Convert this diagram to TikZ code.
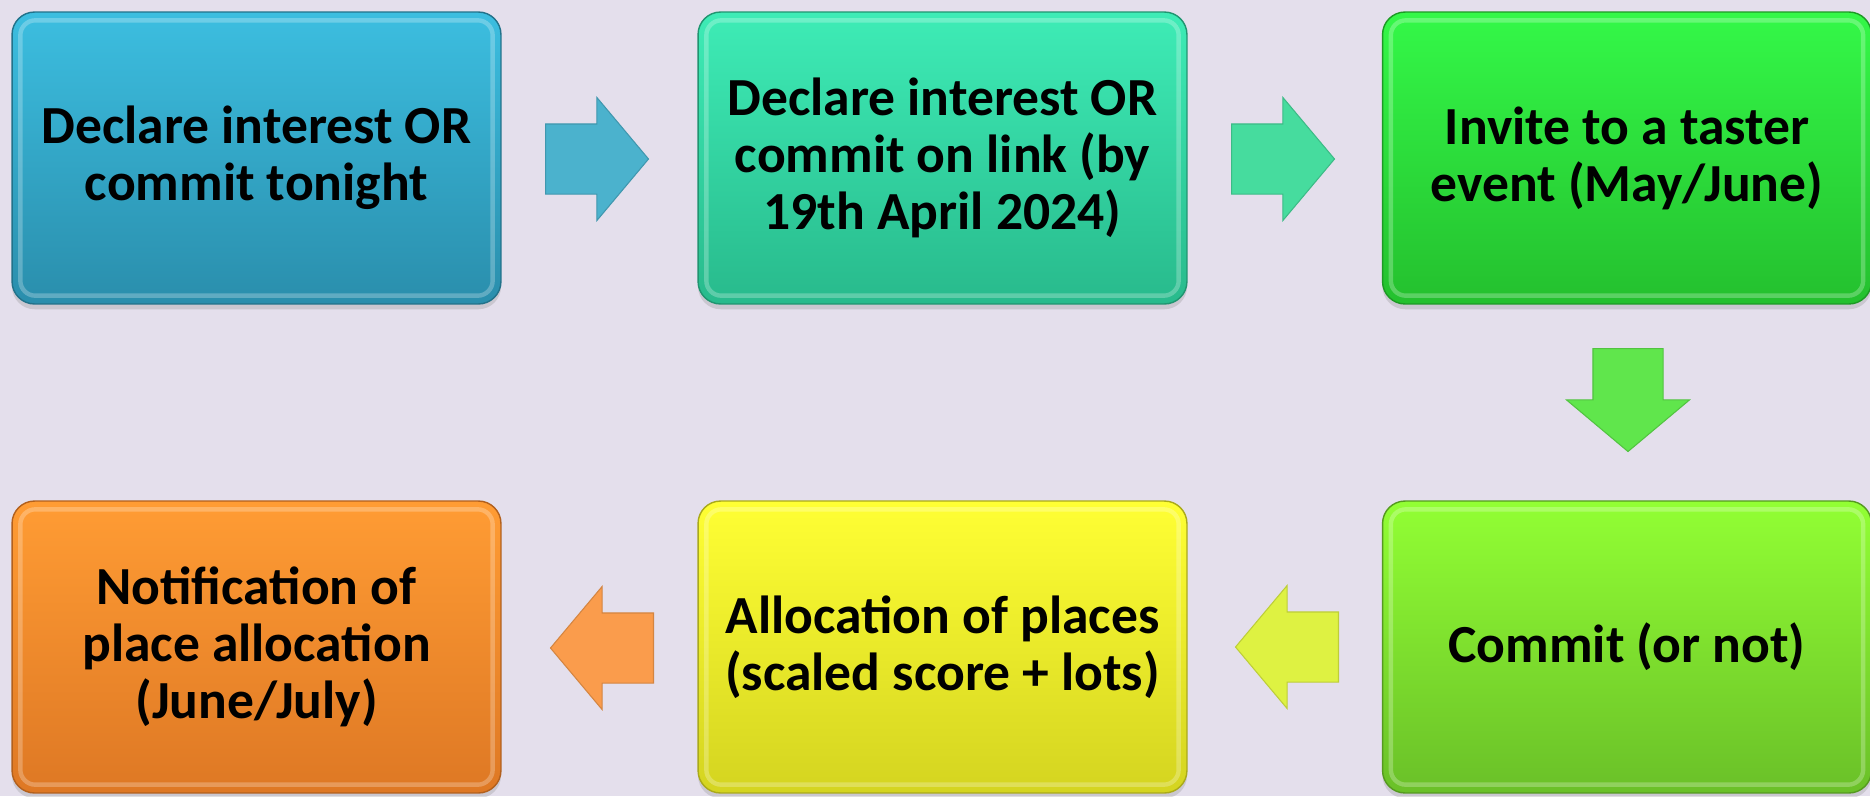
\documentclass[tikz,border=0pt]{standalone}
\usepackage{fontspec}
\setmainfont{Carlito}
\usetikzlibrary{shapes.arrows,shadows}

\definecolor{bgcol}{RGB}{228,223,236}
\definecolor{declTop}{RGB}{60,190,224}
\definecolor{declBot}{RGB}{42,142,172}
\definecolor{linkTop}{RGB}{62,236,182}
\definecolor{linkBot}{RGB}{40,186,140}
\definecolor{tastTop}{RGB}{52,248,72}
\definecolor{tastBot}{RGB}{36,192,46}
\definecolor{commTop}{RGB}{146,255,52}
\definecolor{commBot}{RGB}{106,192,40}
\definecolor{allocTop}{RGB}{255,255,52}
\definecolor{allocBot}{RGB}{212,212,32}
\definecolor{notifTop}{RGB}{255,156,52}
\definecolor{notifBot}{RGB}{222,120,36}
\definecolor{arrDecl}{RGB}{75,178,205}
\definecolor{arrLink}{RGB}{70,220,158}
\definecolor{arrTast}{RGB}{96,230,76}
\definecolor{arrComm}{RGB}{222,242,66}
\definecolor{arrAlloc}{RGB}{250,156,76}

\tikzset{
    stage/.style={rounded corners=0.45cm, minimum width=9.78cm, minimum height=5.84cm,
        inner sep=0pt, align=center, line width=0.8pt,
        font=\fontsize{30.5}{32.5}\selectfont\bfseries,
        drop shadow={opacity=0.25, shadow xshift=0pt, shadow yshift=-3pt}},
    gloss/.style={draw=white, opacity=0.25, line width=2.5pt, rounded corners=0.3cm},
    flowarrow/.style={single arrow, single arrow head extend=0.53cm, single arrow tip angle=100,
        minimum height=2.06cm, minimum width=0pt, inner xsep=0pt, inner ysep=0.69cm,
        anchor=tail, fill=#1, draw=#1!85!black, line width=0.6pt}
}

\begin{document}
\begin{tikzpicture}[x=0.02cm, y=-0.02cm]
    \fill[bgcol] (0,0) rectangle (1870,796);
    \useasboundingbox (0,0) rectangle (1870,796);

    % top row
    \node[stage, top color=declTop, bottom color=declBot, draw=declBot!80!black] (decl) at (256.5,158)
        {Declare interest OR\\commit tonight};
    \node[stage, top color=linkTop, bottom color=linkBot, draw=linkBot!80!black] (link) at (942.5,158)
        {Declare interest OR\\commit on link (by\\19th April 2024)};
    \node[stage, top color=tastTop, bottom color=tastBot, draw=tastBot!80!black] (taster) at (1627,158)
        {Invite to a taster\\event (May/June)};

    % bottom row
    \node[stage, top color=commTop, bottom color=commBot, draw=commBot!80!black] (commit) at (1627,647)
        {Commit (or not)};
    \node[stage, top color=allocTop, bottom color=allocBot, draw=allocBot!80!black] (alloc) at (942.5,647)
        {Allocation of places\\(scaled score + lots)};
    \node[stage, top color=notifTop, bottom color=notifBot, draw=notifBot!80!black] (notif) at (256.5,647)
        {Notification of\\place allocation\\(June/July)};

    % bevel highlight
    \foreach \n in {decl,link,taster,commit,alloc,notif}
        \draw[gloss] ([shift={(9,9)}]\n.north west) rectangle ([shift={(-9,-9)}]\n.south east);

    % block arrows, placed by their tails
    \node[flowarrow=arrDecl] (declToLink) at (545,159) {};
    \node[flowarrow=arrLink] (linkToTaster) at (1231,159) {};
    \node[flowarrow=arrTast, rotate=-90] (tasterToCommit) at (1628,348) {};
    \node[flowarrow=arrComm, rotate=180] (commitToAlloc) at (1339,647) {};
    \node[flowarrow=arrAlloc, rotate=180] (allocToNotif) at (654,648) {};
\end{tikzpicture}
\end{document}
